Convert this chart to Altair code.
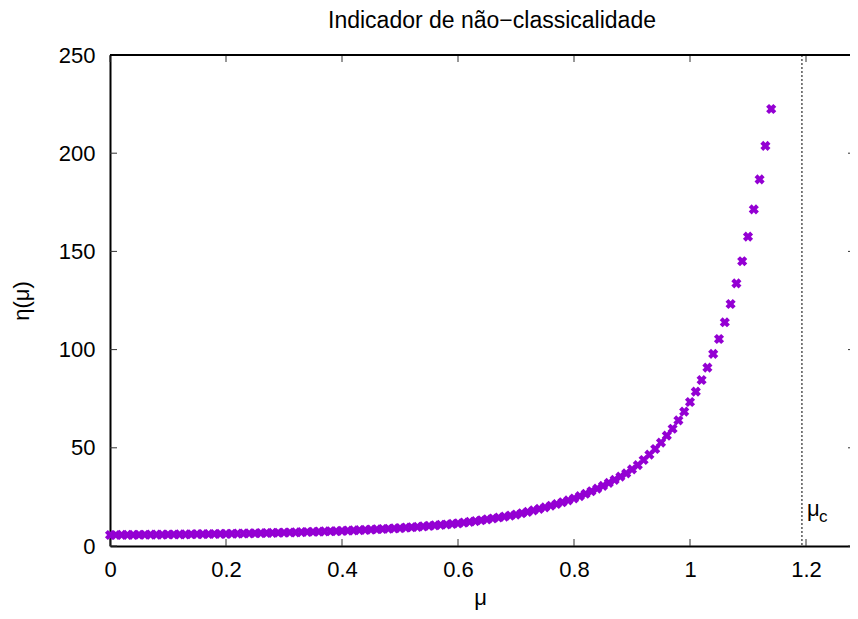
import altair as alt
import pandas as pd

# ---- data ----
mu = [0.00, 0.01, 0.02, 0.03, 0.04, 0.05, 0.06, 0.07, 0.08, 0.09,
      0.10, 0.11, 0.12, 0.13, 0.14, 0.15, 0.16, 0.17, 0.18, 0.19,
      0.20, 0.21, 0.22, 0.23, 0.24, 0.25, 0.26, 0.27, 0.28, 0.29,
      0.30, 0.31, 0.32, 0.33, 0.34, 0.35, 0.36, 0.37, 0.38, 0.39,
      0.40, 0.41, 0.42, 0.43, 0.44, 0.45, 0.46, 0.47, 0.48, 0.49,
      0.50, 0.51, 0.52, 0.53, 0.54, 0.55, 0.56, 0.57, 0.58, 0.59,
      0.60, 0.61, 0.62, 0.63, 0.64, 0.65, 0.66, 0.67, 0.68, 0.69,
      0.70, 0.71, 0.72, 0.73, 0.74, 0.75, 0.76, 0.77, 0.78, 0.79,
      0.80, 0.81, 0.82, 0.83, 0.84, 0.85, 0.86, 0.87, 0.88, 0.89,
      0.90, 0.91, 0.92, 0.93, 0.94, 0.95, 0.96, 0.97, 0.98, 0.99,
      1.00, 1.01, 1.02, 1.03, 1.04, 1.05, 1.06, 1.07, 1.08, 1.09,
      1.10, 1.11, 1.12, 1.13, 1.14]

eta = [5.60, 5.62, 5.65, 5.67, 5.70, 5.72, 5.75, 5.77, 5.80, 5.82,
       5.85, 5.88, 5.92, 5.95, 5.99, 6.02, 6.06, 6.09, 6.13, 6.16,
       6.20, 6.26, 6.32, 6.37, 6.43, 6.49, 6.55, 6.61, 6.67, 6.74,
       6.80, 6.89, 6.97, 7.06, 7.15, 7.24, 7.33, 7.42, 7.51, 7.61,
       7.70, 7.83, 7.96, 8.10, 8.23, 8.37, 8.51, 8.66, 8.80, 8.95,
       9.10, 9.32, 9.54, 9.76, 9.99, 10.23, 10.47, 10.72, 10.97, 11.23,
       11.50, 11.89, 12.28, 12.70, 13.12, 13.56, 14.02, 14.49, 14.98, 15.48,
       16.00, 16.68, 17.38, 18.11, 18.88, 19.68, 20.51, 21.37, 22.27, 23.22,
       24.20, 25.37, 26.59, 27.88, 29.22, 30.64, 32.11, 33.67, 35.3, 37.0,
       39.0, 41.2, 43.8, 46.5, 49.4, 52.6, 56.2, 59.7, 64.0, 68.4,
       73.3, 78.6, 84.5, 90.8, 97.8, 105.4, 113.9, 123.2, 133.7, 145.0,
       157.5, 171.4, 186.7, 203.7, 222.5]

x_tick_values = [0, 0.2, 0.4, 0.6, 0.8, 1.0, 1.2]
y_tick_values = [0, 50, 100, 150, 200, 250]
mu_c = [1.193]
mu_c_label_eta = [15.5]

title_text = "Indicador de não−classicalidade"
x_title = "μ"
y_title = "η(μ)"

# ---- layout / style ----
W, H = 740, 491
FONT = "Liberation Sans, Arial, sans-serif"
PURPLE = "#9400D3"

df = pd.DataFrame({"mu": mu, "eta": eta})
xt = pd.DataFrame({"mu": x_tick_values})
yt = pd.DataFrame({"eta": y_tick_values})
crit = pd.DataFrame({"mu": mu_c, "eta": mu_c_label_eta})

xs = alt.Scale(domain=[0, W / 580.0], nice=False, zero=False)
ys = alt.Scale(domain=[0, 250], nice=False)

X_AXIS = alt.Axis(values=x_tick_values, title=x_title,
                  labelExpr="format(datum.value, '~g')", labelFlush=False,
                  labelPadding=13, titlePadding=7)
Y_AXIS = alt.Axis(values=y_tick_values, title=y_title, labelFlush=False,
                  labelPadding=15, titlePadding=25)

def X():
    return alt.X("mu:Q", scale=xs, axis=X_AXIS, title=x_title)

def Y():
    return alt.Y("eta:Q", scale=ys, axis=Y_AXIS, title=y_title)

points = alt.Chart(df).mark_point(
    shape="cross", angle=45, filled=True, size=105, color=PURPLE,
    opacity=1, strokeWidth=0
).encode(x=X(), y=Y())

vline = alt.Chart(crit).mark_rule(color="black", strokeWidth=1, strokeDash=[2, 2]).encode(
    x=X()
)

lab_mu = alt.Chart(crit).mark_text(
    text="μ", align="left", baseline="alphabetic", dx=5, fontSize=22, font=FONT, color="black"
).encode(x=X(), y=Y())

lab_c = alt.Chart(crit).mark_text(
    text="c", align="left", baseline="alphabetic", dx=17, dy=6, fontSize=17, font=FONT, color="black"
).encode(x=X(), y=Y())

TICK = dict(color="#333333", strokeWidth=1)
xt_bottom = alt.Chart(xt).mark_rule(**TICK).encode(
    x=X(), y=alt.value(H), y2=alt.value(H - 7))
xt_top = alt.Chart(xt).mark_rule(**TICK).encode(
    x=X(), y=alt.value(0), y2=alt.value(7))
yt_left = alt.Chart(yt).mark_rule(**TICK).encode(
    y=Y(), x=alt.value(0), x2=alt.value(7))
yt_right = alt.Chart(yt).mark_rule(**TICK).encode(
    y=Y(), x=alt.value(W - 2), x2=alt.value(W))

top_border = alt.Chart(xt).mark_rule(color="black", strokeWidth=2).encode(
    x=alt.value(0), x2=alt.value(W), y=alt.value(0))

chart = alt.layer(
    points, vline, lab_mu, lab_c, xt_bottom, xt_top, yt_left, yt_right, top_border
).properties(
    width=W, height=H,
    title=alt.TitleParams(title_text, fontSize=23, font=FONT, fontWeight="normal",
                          color="black", offset=11, dx=12, anchor="middle"),
    autosize=alt.AutoSizeParams(type="none"),
    padding={"left": 102, "top": 47, "right": 0, "bottom": 64},
).configure_view(stroke=None).configure_axis(
    labelFont=FONT, titleFont=FONT, labelFontSize=22, titleFontSize=22,
    labelColor="black", titleColor="black", titleFontWeight="normal",
    domainColor="black", domainWidth=2, ticks=False, tickSize=0, grid=False,
)

chart.save("out.html", embed_options={"renderer": "svg", "actions": False})
